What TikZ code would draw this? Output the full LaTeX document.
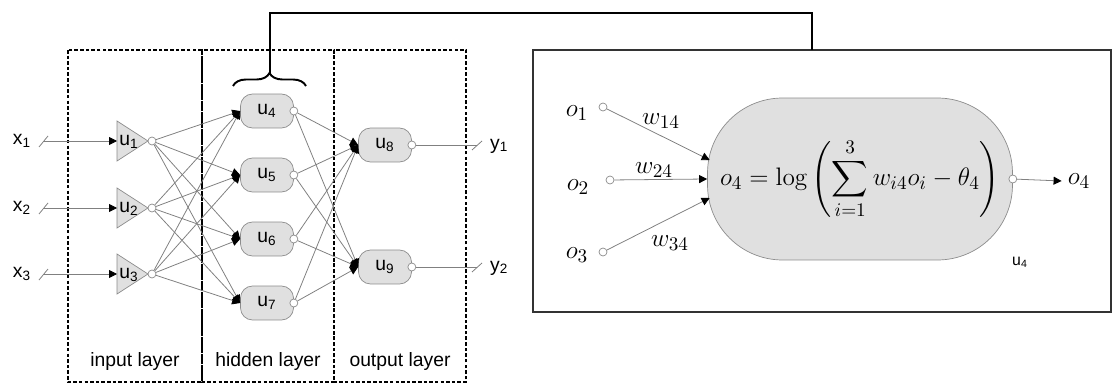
\documentclass[tikz,border=0pt]{standalone}
\usepackage{amsmath}
\usepackage[no-math]{fontspec}
\setmainfont{Liberation Sans}
\usetikzlibrary{arrows.meta,decorations.pathreplacing}
\usepackage{xcolor}
\definecolor{cellfill}{gray}{0.88}
\definecolor{celledge}{gray}{0.55}
\definecolor{wire}{gray}{0.5}
\tikzset{
    hidcell/.style={
        rectangle,
        rounded corners=0.24cm,
        minimum width=1.06cm,
        minimum height=0.68cm,
        inner sep=0mm,
        draw=celledge,
        fill=cellfill,
        font=\fontsize{11}{13}\selectfont
    },
    bigcell/.style={
        rectangle,
        rounded corners=1.5cm,
        minimum width=6.1cm,
        minimum height=3.24cm,
        inner sep=0mm,
        draw=celledge,
        fill=cellfill
    },
    pin/.style={circle,draw=celledge,fill=white,inner sep=0mm,minimum size=0.16cm},
    wireline/.style={draw=wire,line width=0.45pt},
    tip/.style={-{Triangle[length=0.16cm,width=0.16cm,color=black]}},
    layerbox/.style={draw=black,line width=1.3pt,dash pattern=on 2pt off 1.2pt},
    labeltext/.style={font=\fontsize{11}{13}\selectfont},
    mathlabel/.style={font=\fontsize{15}{17}\selectfont}
}
\newcommand{\innode}[3] {
    \draw[draw=celledge,fill=cellfill] (117,#2-20) -- (148,#2) -- (117,#2+20) -- cycle;
    \node[labeltext,anchor=west,inner sep=0mm] (#1) at (119,#2+1) {u\textsubscript{#3}};
    \node[pin] (#1-o) at (152,#2) {};
    \coordinate (#1-i) at (117,#2);
    \node[labeltext] (x#3) at (22,#2) {x\textsubscript{#3}};
    \coordinate (x#3-s) at (44,#2);
    \draw[wireline] (39,#2+6) -- (48,#2-5);
    \draw[wireline,tip] (x#3-s) -- (#1-i);
}
\newcommand{\cellnode}[4] {
    \node[hidcell] (#1) at (#2,#3) {u\textsubscript{#4}};
    \node[pin] (#1-o) at (#1.east) {};
}
\newcommand{\outwire}[2] {
    \coordinate (y#2-s) at (477,\y);
    \draw[wireline] (#1-o) -- (y#2-s);
    \draw[wireline] (472,\y+5) -- (482,\y-4);
    \node[labeltext,anchor=west] (y#2) at (484,\y+1) {y\textsubscript{#2}};
}
\begin{document}
\begin{tikzpicture}[x=0.02cm,y=-0.02cm]
    \useasboundingbox (0,0) rectangle (1113,385);
    % layers
    \draw[layerbox] (68,50) rectangle (202,382);
    \draw[layerbox] (202,50) rectangle (334,382);
    \draw[layerbox] (334,50) rectangle (466,382);
    \node[labeltext] (inlabel) at (135,362) {input layer};
    \node[labeltext] (hidlabel) at (268,362) {hidden layer};
    \node[labeltext] (outlabel) at (400,362) {output layer};
    % input layer
    \innode{u1}{141}{1}
    \innode{u2}{208}{2}
    \innode{u3}{274}{3}
    % hidden layer
    \cellnode{u4}{267}{111}{4}
    \cellnode{u5}{267}{175}{5}
    \cellnode{u6}{267}{239}{6}
    \cellnode{u7}{267}{303}{7}
    % output layer
    \cellnode{u8}{385}{145}{8}
    \cellnode{u9}{385}{267}{9}
    \foreach \a in {u1,u2,u3}
        \foreach \b in {u4,u5,u6,u7}
            \draw[wireline,tip] (\a-o) -- (\b.west);
    \foreach \a in {u4,u5,u6,u7}
        \foreach \b in {u8,u9}
            \draw[wireline,tip] (\a-o) -- (\b.west);
    \def\y{145}\outwire{u8}{1}
    \def\y{267}\outwire{u9}{2}
    % zoom on u4
    \draw[decorate,decoration={brace,amplitude=0.26cm},line width=1.1pt] (233,86) -- (306,86);
    \coordinate (bracetip) at (270,73);
    \draw[line width=1.3pt,draw=black!80] (533,50) rectangle (1111,312);
    \coordinate (boxtop) at (812,50);
    \draw[line width=1.2pt] (bracetip) -- (270,13) -| (boxtop);
    \node[bigcell] (big) at (860,179) {\fontsize{15}{18}\selectfont
        $\displaystyle o_4=\log\left(\sum_{i=1}^{3}w_{i4}o_i-\theta_4\right)$};
    \node[mathlabel] (o1) at (577,113) {$o_1$};
    \node[mathlabel] (o2) at (578,187) {$o_2$};
    \node[mathlabel] (o3) at (577,255) {$o_3$};
    \node[pin] (o1-o) at (603,107) {};
    \node[pin] (o2-o) at (610,180) {};
    \node[pin] (o3-o) at (603,252) {};
    \draw[wireline,tip] (o1-o) -- ([yshift=0.38cm,xshift=0.05cm]big.west);
    \draw[wireline,tip] (o2-o) -- (big.west);
    \draw[wireline,tip] (o3-o) -- ([yshift=-0.38cm,xshift=0.05cm]big.west);
    \node[mathlabel] (w14) at (661,121) {$w_{14}$};
    \node[mathlabel] (w24) at (654,170) {$w_{24}$};
    \node[mathlabel] (w34) at (670,243) {$w_{34}$};
    \node[pin] (big-o) at (big.east) {};
    \node[mathlabel] (o4) at (1079,181) {$o_4$};
    \draw[wireline,tip] (big-o) -- (o4.west);
    \node[font=\fontsize{9}{11}\selectfont] (biglabel) at (1020,262) {u\textsubscript{4}};
\end{tikzpicture}
\end{document}
